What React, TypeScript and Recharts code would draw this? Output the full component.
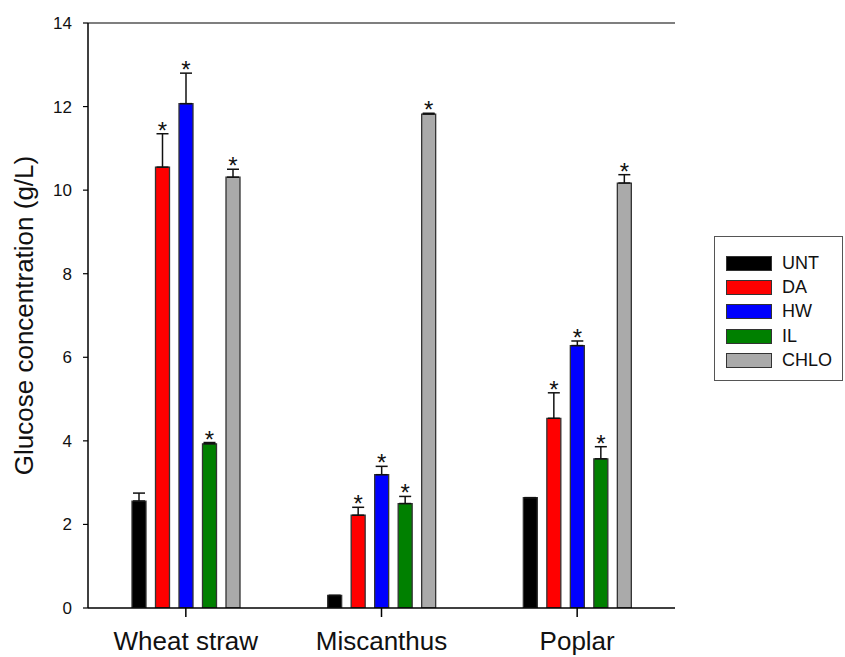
import type { FC } from 'react';
import { Bar, BarChart, ErrorBar, LabelList, Legend, ReferenceLine, XAxis, YAxis } from 'recharts';

const categories = ['Wheat straw', 'Miscanthus', 'Poplar'];

const untValues = [2.56, 0.3, 2.64];
const untErrors = [0.19, 0, 0];
const daValues = [10.55, 2.22, 4.54];
const daErrors = [0.8, 0.19, 0.61];
const hwValues = [12.07, 3.19, 6.28];
const hwErrors = [0.73, 0.2, 0.11];
const ilValues = [3.93, 2.5, 3.57];
const ilErrors = [0.03, 0.17, 0.29];
const chloValues = [10.31, 11.82, 10.17];
const chloErrors = [0.19, 0.02, 0.2];

const yTicks = [0, 2, 4, 6, 8, 10, 12, 14];

const series = [
  { key: 'UNT', values: untValues, errors: untErrors, color: '#000000', star: false },
  { key: 'DA', values: daValues, errors: daErrors, color: '#ff0000', star: true },
  { key: 'HW', values: hwValues, errors: hwErrors, color: '#0000ff', star: true },
  { key: 'IL', values: ilValues, errors: ilErrors, color: '#008000', star: true },
  { key: 'CHLO', values: chloValues, errors: chloErrors, color: '#aaaaaa', star: true },
];

const data = categories.map((name, i) => {
  const row: Record<string, unknown> = { name };
  series.forEach((s) => {
    row[s.key] = s.values[i];
    row[`${s.key}_err`] = [0, s.errors[i]];
  });
  return row;
});

const FONT = '"Liberation Sans", Arial, sans-serif';

// star sits just above the top of the error bar
const starLabel = (errors: number[]) => (props: any) => {
  const vb = props.viewBox ?? props;
  const { x, y, width, height } = vb;
  const value = Number(props.value);
  if (!value || height == null) return null;
  const pxPerUnit = height / value;
  const capY = y - errors[props.index] * pxPerUnit;
  return (
    <text x={x + width / 2} y={capY + 5} textAnchor='middle' fontSize={24} fill='#111' fontFamily={FONT}>
      *
    </text>
  );
};

const LegendBox: FC = () => (
  <div
    style={{
      width: 129,
      height: 145,
      border: '1.5px solid #555',
      boxSizing: 'border-box',
      paddingTop: 14,
      paddingLeft: 11,
      fontFamily: FONT,
      fontSize: 18,
      color: '#111',
    }}
  >
    {series.map((s) => (
      <div key={s.key} style={{ display: 'flex', alignItems: 'center', height: 24.3 }}>
        <span
          style={{
            display: 'inline-block',
            width: 44,
            height: 13,
            background: s.color,
            border: '1.2px solid #333',
            marginRight: 10,
          }}
        />
        <span>{s.key}</span>
      </div>
    ))}
  </div>
);

const App: FC = () => {
  return (
    <div style={{ position: 'absolute', left: 0, top: 0, width: 845, height: 657, background: '#fff', fontFamily: FONT }}>
      <BarChart
        width={845}
        height={657}
        data={data}
        margin={{ top: 23, right: 170, bottom: 0, left: 0 }}
        barSize={14}
        barGap={9.5}
      >
        <XAxis
          dataKey='name'
          height={49}
          tickSize={9}
          tickMargin={15}
          axisLine={{ stroke: '#000', strokeWidth: 1.5 }}
          tickLine={{ stroke: '#000', strokeWidth: 1.5 }}
          tick={{ fill: '#111', fontSize: 26, fontFamily: FONT }}
        />
        <YAxis
          width={88}
          domain={[0, 14]}
          ticks={yTicks}
          tickSize={5}
          tickMargin={11}
          allowDataOverflow
          axisLine={{ stroke: '#000', strokeWidth: 1.5 }}
          tickLine={{ stroke: '#000', strokeWidth: 1.2 }}
          tick={{ fill: '#111', fontSize: 17, fontFamily: FONT }}
          label={{
            value: 'Glucose concentration (g/L)',
            angle: -90,
            position: 'center',
            dx: -20,
            fill: '#111',
            fontSize: 26,
            fontFamily: FONT,
          }}
        />
        <YAxis
          yAxisId='r'
          orientation='right'
          width={0}
          domain={[0, 14]}
          tick={false}
          tickLine={false}
          axisLine={{ stroke: '#555', strokeWidth: 1.5 }}
        />
        <ReferenceLine y={14} stroke='#555' strokeWidth={1.5} />
        {series.map((s) => (
          <Bar
            key={s.key}
            dataKey={s.key}
            name={s.key}
            fill={s.color}
            stroke='#333'
            strokeWidth={1.3}
            isAnimationActive={false}
          >
            <ErrorBar dataKey={`${s.key}_err`} width={6} stroke='#111' strokeWidth={1.5} direction='y' />
            {s.star && <LabelList dataKey={s.key} content={starLabel(s.errors)} />}
          </Bar>
        ))}
        <Legend
          layout='horizontal'
          align='center'
          verticalAlign='middle'
          wrapperStyle={{ left: 714, top: 236, width: 140 }}
          content={() => <LegendBox />}
        />
      </BarChart>
    </div>
  );
};

export default App;
